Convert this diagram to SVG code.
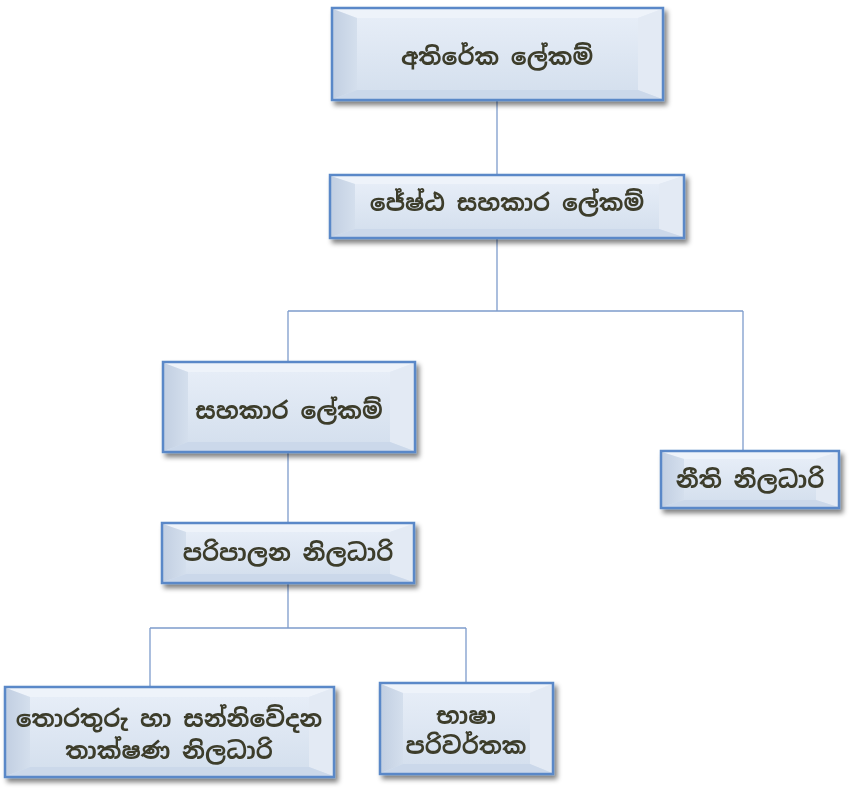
<svg xmlns="http://www.w3.org/2000/svg" width="854" height="789" viewBox="0 0 854 789">
<defs>
<linearGradient id="face" x1="0" y1="0" x2="0" y2="1">
<stop offset="0" stop-color="#e6edf7"/>
<stop offset="1" stop-color="#d5e0ee"/>
</linearGradient>
<linearGradient id="lf" x1="0" y1="0" x2="1" y2="0">
<stop offset="0" stop-color="#c2cfe2"/>
<stop offset="1" stop-color="#d4dfed"/>
</linearGradient>
<filter id="sh" x="-10%" y="-10%" width="130%" height="140%">
<feGaussianBlur in="SourceAlpha" stdDeviation="2.5"/>
<feOffset dx="3" dy="4" result="b"/>
<feComponentTransfer><feFuncA type="linear" slope="0.5"/></feComponentTransfer>
<feMerge><feMergeNode/><feMergeNode in="SourceGraphic"/></feMerge>
</filter>
</defs>
<style>
.out{fill:url(#face)}
.t{fill:#eef3fa}.l{fill:url(#lf)}.r{fill:#e3eaf4}.b{fill:#cbd8ea}
.in{fill:url(#face)}
.fr{fill:none;stroke:#5a88c8;stroke-width:2.5}
.txt{font-family:"Noto Sans Sinhala","Noto Sans","DejaVu Sans",sans-serif;font-size:23.5px;font-weight:bold;fill:#3c3c2c;text-anchor:middle}
.c{fill:none;stroke:#7e9ccc;stroke-width:1.3}
</style>
<g id="connectors">
<path class="c" d="M497 101V175M497 238V311M288 311H743M288 311V362M743 311V451M288 452V523M288 583V628M150 628H466M150 628V687M466 628V683"/>
</g>
<g id="n1" filter="url(#sh)">
<rect class="out" x="332" y="8" width="331" height="92"/>
<polygon class="t" points="333,9 662,9 638,18 357,18"/>
<polygon class="l" points="333,9 357,18 357,90 333,99"/>
<polygon class="r" points="662,9 662,99 638,90 638,18"/>
<polygon class="b" points="333,99 357,90 638,90 662,99"/>
<rect class="in" x="357" y="18" width="281" height="72"/>
<rect class="fr" x="332" y="8" width="331" height="92"/>
<text class="txt" x="497" y="65">අතිරේක ලේකම්</text>
</g>
<g id="n2" filter="url(#sh)">
<rect class="out" x="330" y="175" width="354" height="63"/>
<polygon class="t" points="331,176 683,176 659,184 355,184"/>
<polygon class="l" points="331,176 355,184 355,229 331,237"/>
<polygon class="r" points="683,176 683,237 659,229 659,184"/>
<polygon class="b" points="331,237 355,229 659,229 683,237"/>
<rect class="in" x="355" y="184" width="304" height="45"/>
<rect class="fr" x="330" y="175" width="354" height="63"/>
<text class="txt" x="507" y="211">ජේෂ්ඨ සහකාර ලේකම්</text>
</g>
<g id="n3" filter="url(#sh)">
<rect class="out" x="163" y="362" width="252" height="90"/>
<polygon class="t" points="164,363 414,363 390,372 188,372"/>
<polygon class="l" points="164,363 188,372 188,442 164,451"/>
<polygon class="r" points="414,363 414,451 390,442 390,372"/>
<polygon class="b" points="164,451 188,442 390,442 414,451"/>
<rect class="in" x="188" y="372" width="202" height="70"/>
<rect class="fr" x="163" y="362" width="252" height="90"/>
<text class="txt" x="289" y="419">සහකාර ලේකම්</text>
</g>
<g id="n4" filter="url(#sh)">
<rect class="out" x="661" y="451" width="178" height="57"/>
<polygon class="t" points="662,452 838,452 816,459 684,459"/>
<polygon class="l" points="662,452 684,459 684,500 662,507"/>
<polygon class="r" points="838,452 838,507 816,500 816,459"/>
<polygon class="b" points="662,507 684,500 816,500 838,507"/>
<rect class="in" x="684" y="459" width="132" height="41"/>
<rect class="fr" x="661" y="451" width="178" height="57"/>
<text class="txt" x="750" y="488">නීති නිලධාරි</text>
</g>
<g id="n5" filter="url(#sh)">
<rect class="out" x="162" y="523" width="252" height="60"/>
<polygon class="t" points="163,524 413,524 390,532 186,532"/>
<polygon class="l" points="163,524 186,532 186,574 163,582"/>
<polygon class="r" points="413,524 413,582 390,574 390,532"/>
<polygon class="b" points="163,582 186,574 390,574 413,582"/>
<rect class="in" x="186" y="532" width="204" height="42"/>
<rect class="fr" x="162" y="523" width="252" height="60"/>
<text class="txt" x="288" y="561">පරිපාලන නිලධාරි</text>
</g>
<g id="n6" filter="url(#sh)">
<rect class="out" x="5" y="687" width="329" height="90"/>
<polygon class="t" points="6,688 333,688 309,697 30,697"/>
<polygon class="l" points="6,688 30,697 30,767 6,776"/>
<polygon class="r" points="333,688 333,776 309,767 309,697"/>
<polygon class="b" points="6,776 30,767 309,767 333,776"/>
<rect class="in" x="30" y="697" width="279" height="70"/>
<rect class="fr" x="5" y="687" width="329" height="90"/>
<text class="txt" x="169" y="727">තොරතුරු හා සන්නිවේදන</text>
<text class="txt" x="169" y="759">තාක්ෂණ නිලධාරි</text>
</g>
<g id="n7" filter="url(#sh)">
<rect class="out" x="380" y="683" width="173" height="91"/>
<polygon class="t" points="381,684 552,684 530,693 403,693"/>
<polygon class="l" points="381,684 403,693 403,764 381,773"/>
<polygon class="r" points="552,684 552,773 530,764 530,693"/>
<polygon class="b" points="381,773 403,764 530,764 552,773"/>
<rect class="in" x="403" y="693" width="127" height="71"/>
<rect class="fr" x="380" y="683" width="173" height="91"/>
<text class="txt" x="466" y="724">භාෂා</text>
<text class="txt" x="466" y="754">පරිවර්තක</text>
</g>
</svg>
